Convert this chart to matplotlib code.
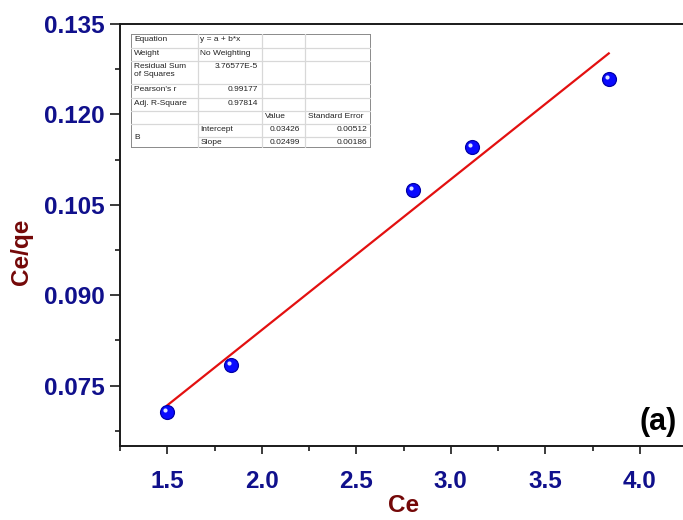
import matplotlib.pyplot as plt
import numpy as np
from matplotlib.ticker import MultipleLocator, FormatStrFormatter
from matplotlib.transforms import ScaledTranslation

plt.rcParams['font.family'] = ['Liberation Sans', 'DejaVu Sans']

# ---------------- data ----------------
ce = [1.5, 1.836, 2.80, 3.113, 3.836]
ce_qe = [0.0707, 0.0785, 0.1075, 0.1146, 0.1259]

# fit parameters printed in the table
intercept = 0.03426
slope = 0.02499

# table contents (rows of 4 cells)
table_rows = [
    ['Equation', 'y = a + b*x', '', ''],
    ['Weight', 'No Weighting', '', ''],
    ['Residual Sum\nof Squares', '3.76577E-5', '', ''],
    ["Pearson's r", '0.99177', '', ''],
    ['Adj. R-Square', '0.97814', '', ''],
    ['', '', 'Value', 'Standard Error'],
    ['B', 'Intercept', '0.03426', '0.00512'],
    ['', 'Slope', '0.02499', '0.00186'],
]

navy = '#10108c'
darkred = '#740808'

fig = plt.figure(figsize=(6.83, 5.2), dpi=100)
W, H = 683, 520
# axes box in pixels: left 120, right 687 (just outside the picture), top 24, bottom 446
ax = fig.add_axes([120 / W, 1 - 446 / H, 567 / W, 422 / H])

ax.set_xlim(1.25, 4.25)
ax.set_ylim(0.065, 0.135)

# fitted line over the data range
xfit = np.array([min(ce), max(ce)])
ax.plot(xfit, intercept + slope * xfit, color='#e31010', lw=1.6, zorder=2)

# blue "spheres": body + small highlight
ax.plot(ce, ce_qe, 'o', ms=10, color='#0a0aff', mec='#0000a8', mew=0.9, zorder=3)
hl = ax.transData + ScaledTranslation(-2 / 100, 2 / 100, fig.dpi_scale_trans)
ax.plot(ce, ce_qe, 'o', ms=3, color='#dde4ff', mec='none', transform=hl, zorder=4)

ax.xaxis.set_major_locator(MultipleLocator(0.5))
ax.xaxis.set_minor_locator(MultipleLocator(0.25))
ax.yaxis.set_major_locator(MultipleLocator(0.015))
ax.yaxis.set_minor_locator(MultipleLocator(0.0075))
ax.xaxis.set_major_formatter(FormatStrFormatter('%.1f'))
ax.yaxis.set_major_formatter(FormatStrFormatter('%.3f'))

ax.tick_params(which='both', direction='out', top=False, right=False, color='#1a1a1a', width=1.2)
ax.tick_params(axis='x', which='major', length=6, pad=11, labelsize=17.5, labelcolor=navy)
ax.tick_params(axis='y', which='major', length=7, pad=4, labelsize=17.5, labelcolor=navy)
ax.tick_params(which='minor', length=3.5)
for lab in ax.get_xticklabels() + ax.get_yticklabels():
    lab.set_fontweight('bold')
for sp in ax.spines.values():
    sp.set_linewidth(1.4)
    sp.set_color('#1a1a1a')

fig.text(22 / W, 1 - 252 / H, 'Ce/qe', rotation=90, ha='center', va='center',
         fontsize=17.5, fontweight='bold', color=darkred)
fig.text(404 / W, 1 - 506 / H, 'Ce', ha='center', va='center',
         fontsize=17.5, fontweight='bold', color=darkred)

ax.text(0.982, 0.058, '(a)', transform=ax.transAxes, ha='right', va='center',
        fontsize=22, fontweight='bold', color='black')

# ---------------- fit table (drawn in pixel coordinates) ----------------
tx0, tx1, ty0, ty1 = 131, 371, 34, 148
tab = fig.add_axes([tx0 / W, 1 - ty1 / H, (tx1 - tx0) / W, (ty1 - ty0) / H])
tab.set_xlim(tx0, tx1)
tab.set_ylim(ty1, ty0)
tab.axis('off')
tab.add_patch(plt.Rectangle((tx0, ty0), tx1 - tx0, ty1 - ty0, fc='white', ec='#8a8a8a', lw=1.4))

col_x = [131, 197.5, 261.5, 304.5, 371]
row_h = [13.6, 13.6, 23, 13.4, 13.4, 13.4, 12.8, 12.8]
row_y = [ty0]
for h in row_h:
    row_y.append(row_y[-1] + h)

grid_c = '#d8d8d8'
for cx in col_x[1:-1]:
    tab.plot([cx, cx], [ty0, ty1], color=grid_c, lw=0.9)
for i, ry in enumerate(row_y[1:-1], start=1):
    x_start = col_x[1] if i == 7 else tx0
    tab.plot([x_start, tx1], [ry, ry], color=grid_c, lw=0.9)

txt = dict(fontsize=6, color='#222222')
for i, row in enumerate(table_rows):
    top = row_y[i]
    for j, cell in enumerate(row):
        if not cell:
            continue
        if i == 6 and j == 0:
            tab.text(col_x[0] + 3, row_y[6] + (row_y[8] - row_y[6]) / 2, cell, ha='left', va='center', **txt)
            continue
        numeric = cell[0].isdigit()
        if numeric:
            x, ha = col_x[j + 1] - 4, 'right'
        else:
            x, ha = col_x[j] + 3, 'left'
        tab.text(x, top + 2, cell, ha=ha, va='top', linespacing=1.15, **txt)

fig.savefig('out.png', dpi=100)
